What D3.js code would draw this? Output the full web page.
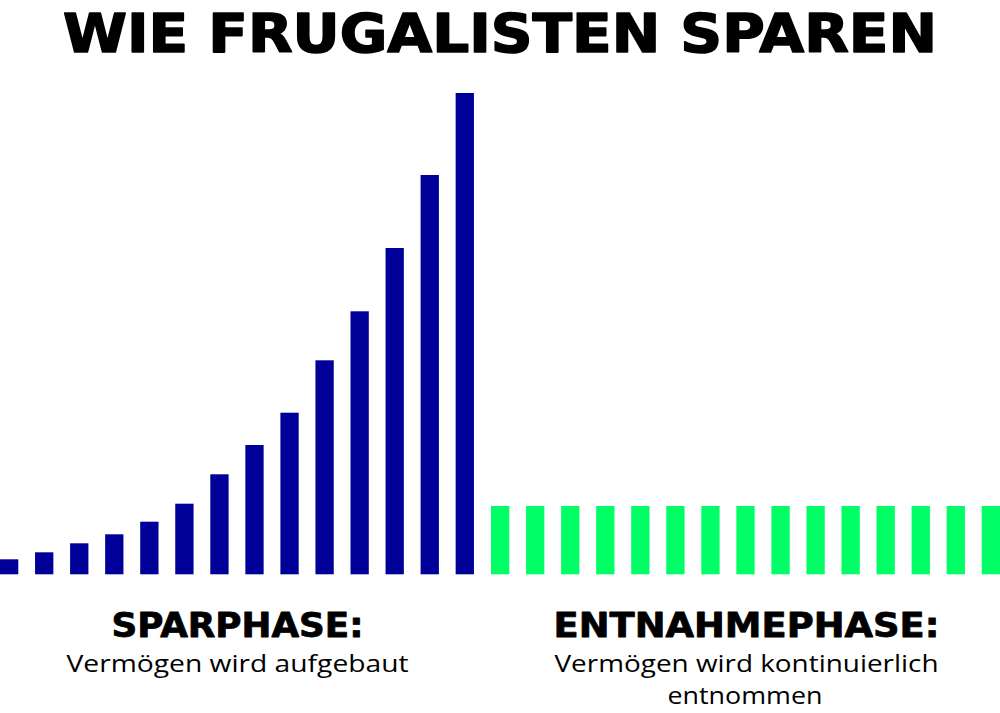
<!DOCTYPE html>
<html>
<head>
<meta charset="utf-8">
<script src="https://cdn.jsdelivr.net/npm/d3@7"></script>
<style>
  html, body { margin: 0; padding: 0; background: #fff; }
  svg { display: block; }
</style>
</head>
<body>
<svg id="chart" width="1000" height="713"></svg>
<script>
// ---- data ----
const title = "WIE FRUGALISTEN SPAREN";
const sparValues = [15, 22, 31, 40, 52.6, 70.6, 100, 129.3, 161.6, 214, 263, 326.3, 399.3, 481.3];
const entnahmeValues = [68.3, 68.3, 68.3, 68.3, 68.3, 68.3, 68.3, 68.3, 68.3, 68.3, 68.3, 68.3, 68.3, 68.3, 68.3];
const phaseLabels = ["SPARPHASE:", "ENTNAHMEPHASE:"];
const phaseTexts = [["Vermögen wird aufgebaut"], ["Vermögen wird kontinuierlich", "entnommen"]];
const colors = ["#000099", "#00ff66"];

const rows = sparValues.map((v, i) => ({phase: 0, v}))
  .concat(entnahmeValues.map(v => ({phase: 1, v})))
  .map((d, i) => ({...d, i}));

const svg = d3.select("#chart");
const n = rows.length;
const step = 35.05;
const pInner = 1 - 18.3 / step;
const x = d3.scaleBand()
  .domain(rows.map(d => d.i))
  .range([0, step * (n - pInner)])
  .paddingInner(pInner)
  .paddingOuter(0);
const y = d3.scaleLinear()
  .domain([0, d3.max(sparValues)])
  .range([574.3, 93]);

svg.append("g").selectAll("rect")
  .data(rows)
  .join("rect")
  .attr("x", d => x(d.i) + (d.phase === 1 ? 0.3 : 0))
  .attr("y", d => y(d.v))
  .attr("width", x.bandwidth())
  .attr("height", d => y(0) - y(d.v))
  .attr("fill", d => colors[d.phase]);

svg.append("text")
  .attr("x", 500).attr("y", 52)
  .attr("text-anchor", "middle")
  .attr("textLength", 874)
  .attr("lengthAdjust", "spacingAndGlyphs")
  .style("font-family", "'DejaVu Sans', sans-serif")
  .style("font-weight", 700)
  .style("font-size", "54px")
  .attr("fill", "#000")
  .attr("stroke", "#000")
  .attr("stroke-width", 1.6)
  .attr("stroke-linejoin", "round")
  .text(title);

const centers = [237.5, 746.5];
const labelLens = [252, 386];
const textLens = [[342], [384, 155]];
phaseLabels.forEach((lab, k) => {
  svg.append("text")
    .attr("x", centers[k]).attr("y", 637)
    .attr("text-anchor", "middle")
    .attr("textLength", labelLens[k])
    .attr("lengthAdjust", "spacingAndGlyphs")
    .style("font-family", "'DejaVu Sans', sans-serif")
    .style("font-weight", 700)
    .style("font-size", "33px")
    .attr("fill", "#000")
    .attr("stroke", "#000")
    .attr("stroke-width", 0.8)
    .attr("stroke-linejoin", "round")
    .text(lab);
  phaseTexts[k].forEach((t, j) => {
    svg.append("text")
      .attr("x", centers[k] + (j === 1 ? -1.5 : 0)).attr("y", 672 + j * 32)
      .attr("text-anchor", "middle")
      .attr("textLength", textLens[k][j])
      .attr("lengthAdjust", "spacingAndGlyphs")
      .style("font-family", "'Open Sans', sans-serif")
      .style("font-size", "23px")
      .attr("fill", "#000")
      .text(t);
  });
});
</script>
</body>
</html>
